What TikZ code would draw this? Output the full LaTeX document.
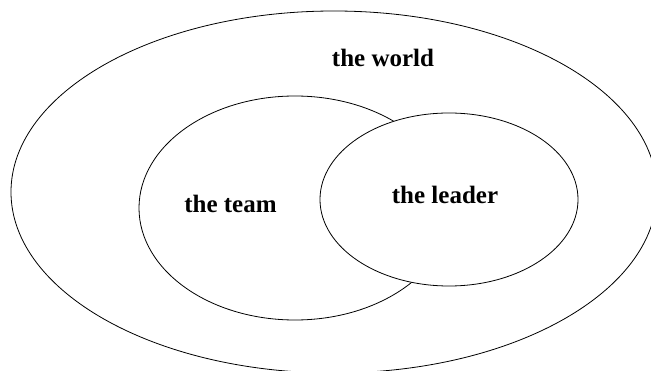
\documentclass[tikz,border=0pt]{standalone}
\usepackage{fontspec}
\setmainfont{Liberation Serif}
\begin{document}
\begin{tikzpicture}[x=1pt,y=-1pt,
  ring/.style={draw=black,line width=0.8pt},
  label/.style={anchor=base,inner sep=0pt,font=\fontsize{25}{30}\selectfont\bfseries}]
\useasboundingbox (0,0) rectangle (651,371);
% the three nested sets
\draw[ring] (334,192) ellipse [x radius=323, y radius=181];
\draw[ring] (295,208) ellipse [x radius=156, y radius=112];
\draw[ring,fill=white] (449,199.5) ellipse [x radius=129, y radius=86.5];
% their names
\node[label] (world)  at (383,66.7)  {the world};
\node[label] (team)   at (230.5,212.7) {the team};
\node[label] (leader) at (445,204)   {the leader};
\end{tikzpicture}
\end{document}
